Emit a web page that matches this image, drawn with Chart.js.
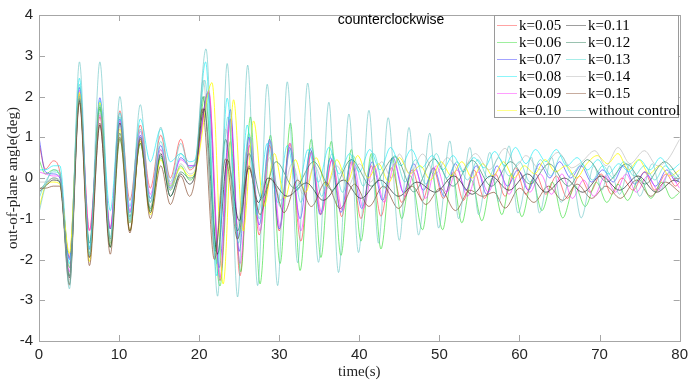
<!DOCTYPE html>
<html><head><meta charset="utf-8">
<script src="https://cdn.jsdelivr.net/npm/chart.js@4/dist/chart.umd.min.js"></script>
<style>html,body{margin:0;padding:0;background:#fff;}#wrap{width:693px;height:385px;position:relative;}</style>
</head><body><div id="wrap"><canvas id="c" width="693" height="385"></canvas></div>
<script>
// ---- data ----
const seriesNames = ['k=0.05','k=0.06','k=0.07','k=0.08','k=0.09','k=0.10','k=0.11','k=0.12','k=0.13','k=0.14','k=0.15','without control'];
const xTicks = [0,10,20,30,40,50,60,70,80];
const yTicks = [-4,-3,-2,-1,0,1,2,3,4];
// shared time stamps of the first 20 s (common extrema)
const tEarly = [0,0.8,1.8,2.6,3.8,5.05,6.3,7.6,8.9,10.1,11.35,12.65,13.9,15.2,16.4,17.7,18.8,19.5];

const k005Early = [0.85,0.22,0.42,0.15,-1.95,2.05,-1.28,1.5,-1.25,1.65,-0.55,1.3,-0.25,1.05,0.0,0.95,0.2,0.35];
const k006Early = [0.45,0.1,0.2,0.05,-2.2,2.0,-1.85,1.7,-1.7,0.95,-1.1,0.85,-0.8,0.5,-0.3,0.3,-0.05,0.15];
const k007Early = [1.0,0.15,0.1,0.0,-2.0,2.22,-1.75,1.97,-1.25,1.45,-0.85,1.05,-0.5,0.8,-0.25,0.5,0.3,0.3];
const k008Early = [0.2,0.2,0.3,0.3,-2.1,2.45,-1.7,1.9,-0.8,1.6,-0.7,1.45,0.4,1.2,0.4,0.6,0.4,0.45];
const k009Early = [0.15,0.1,0.05,0.05,-2.3,2.15,-1.3,1.55,-1.2,1.4,-0.8,1.15,-0.4,0.7,-0.15,0.45,0.3,0.3];
const k010Early = [-0.75,-0.2,-0.1,-0.15,-1.85,2.1,-2.05,1.85,-1.6,1.2,-1.3,0.9,-0.9,0.45,-0.2,0.25,0.05,0.15];
const k011Early = [-0.35,-0.2,-0.05,-0.1,-2.45,1.9,-1.95,1.3,-1.7,1.35,-1.3,1.0,-0.85,0.6,-0.45,0.1,-0.15,0.1];
const k012Early = [-0.3,-0.15,0.0,-0.1,-2.4,1.95,-1.6,1.75,-1.5,1.1,-0.95,0.85,-0.75,0.55,-0.45,0.15,0.0,0.1];
const k013Early = [-0.5,-0.1,0.15,0.1,-2.6,2.3,-1.75,1.8,-1.45,1.5,-1.0,1.2,-0.6,0.9,-0.2,0.6,0.25,0.35];
const k014Early = [-0.1,-0.1,0.0,-0.05,-2.5,2.0,-1.9,1.6,-1.55,1.3,-1.1,1.0,-0.7,0.7,-0.3,0.35,0.1,0.2];
const k015Early = [-0.25,-0.25,-0.2,-0.2,-2.63,1.85,-2.15,1.35,-1.87,1.0,-1.35,0.95,-1.0,0.3,-0.65,0.05,-0.45,0.0];
const noCtrlEarly = [-0.85,-0.2,0.2,0.15,-2.72,2.85,-1.9,2.85,-1.6,2.0,-1.05,1.8,-0.6,1.25,-0.1,0.85,0.25,0.4];

// [time, angle] pairs after 20 s
const k005Late = [[21.2,2.1],[22.6,-2.52],[23.9,1.45],[25.1,-2.4],[26.3,0.8],[27.5,-1.4],[28.8,0.8],[30.0,-1.3],[31.3,0.85],[32.7,-1.55],[34.0,0.65],[35.2,-0.9],[36.6,0.45],[37.8,-0.95],[39.0,0.4],[40.2,-1.0],[41.5,0.3],[42.7,-0.94],[44.0,0.25],[45.3,-0.6],[46.6,0.2],[47.9,-0.55],[49.2,0.25],[50.5,-0.5],[51.8,0.15],[53.0,-0.55],[54.3,0.2],[55.6,-0.5],[57.0,0.1],[58.2,-0.45],[59.5,0.25],[60.8,-0.4],[62.0,0.1],[63.3,-0.4],[64.6,0.05],[66.0,-0.5],[67.5,0.05],[68.8,-0.35],[70.2,0.1],[71.5,-0.4],[72.8,0.0],[74.2,-0.3],[75.6,0.15],[76.9,-0.3],[78.3,0.1],[79.5,-0.2],[80,-0.1]];
const k006Late = [[20.7,2.0],[22.6,-2.65],[23.9,0.9],[25.2,-2.3],[26.4,1.5],[27.6,-2.6],[28.9,1.05],[30.1,-2.1],[31.4,1.35],[32.6,-2.27],[34.0,0.95],[35.2,-1.95],[36.5,0.9],[37.7,-1.9],[39.0,0.7],[40.2,-1.55],[41.5,0.6],[42.7,-1.74],[44.1,0.5],[45.3,-1.0],[46.4,0.05],[47.9,-1.27],[49.0,0.15],[50.4,-1.27],[51.6,0.1],[52.8,-1.1],[54.0,-0.05],[55.3,-1.05],[56.6,0.0],[57.8,-0.9],[59.0,0.1],[60.3,-0.95],[61.6,-0.05],[62.8,-0.8],[64.1,-0.1],[65.4,-0.98],[66.9,-0.18],[68.2,-0.7],[69.6,-0.1],[70.9,-0.6],[72.3,-0.15],[73.5,-0.55],[75.0,0.0],[76.4,-0.5],[77.8,-0.1],[79.0,-0.5],[80,-0.35]];
const k007Late = [[21.1,2.1],[22.5,-2.2],[23.9,1.68],[25.0,-1.8],[26.2,1.0],[27.5,-1.15],[28.8,0.95],[30.0,-1.25],[31.3,0.75],[32.6,-1.0],[33.9,0.7],[35.1,-0.9],[36.4,0.5],[37.7,-0.85],[39.0,0.45],[40.3,-0.75],[41.6,0.4],[42.9,-0.55],[44.2,0.5],[45.5,-0.35],[46.8,0.35],[48.0,-0.3],[49.3,0.25],[50.6,-0.45],[52.0,0.35],[53.3,-0.3],[54.6,0.3],[55.9,-0.4],[57.2,0.3],[58.5,-0.2],[59.8,0.2],[61.1,-0.3],[62.5,0.35],[63.8,0.0],[65.0,0.4],[66.4,0.0],[67.7,0.3],[69.0,-0.1],[70.4,0.2],[71.7,-0.1],[73.0,0.3],[74.4,-0.15],[75.7,0.15],[77.0,-0.2],[78.4,0.2],[79.6,-0.1],[80,0.0]];
const k008Late = [[20.8,2.85],[22.2,-2.4],[23.5,1.96],[24.8,-1.5],[26.0,1.3],[27.2,-0.9],[28.5,0.85],[29.8,-0.6],[31.0,0.8],[32.3,-0.3],[33.6,0.7],[34.9,-0.1],[36.2,0.75],[37.5,0.1],[38.8,0.6],[40.0,0.15],[41.3,0.7],[42.6,0.2],[43.9,0.75],[45.2,0.3],[46.5,0.7],[47.8,0.25],[49.1,0.55],[50.4,0.2],[51.7,0.55],[53.0,0.15],[54.3,0.5],[55.6,0.25],[56.9,0.65],[58.2,0.3],[59.5,0.75],[60.8,0.35],[62.0,0.7],[63.3,0.4],[64.6,0.7],[65.9,0.3],[67.2,0.5],[68.5,0.2],[69.8,0.45],[71.1,0.1],[72.4,0.35],[73.7,0.15],[75.0,0.45],[76.3,0.2],[77.6,0.5],[78.9,0.2],[80,0.35]];
const k009Late = [[21.2,2.15],[22.6,-2.44],[23.9,1.44],[25.1,-2.1],[26.4,1.0],[27.6,-1.3],[28.9,0.9],[30.1,-1.2],[31.4,0.85],[32.7,-1.3],[34.0,0.6],[35.3,-0.85],[36.6,0.45],[37.9,-0.8],[39.2,0.4],[40.5,-0.75],[41.8,0.3],[43.1,-0.6],[44.4,0.35],[45.7,-0.45],[47.0,0.2],[48.3,-0.5],[49.6,0.3],[50.9,-0.35],[52.2,0.2],[53.5,-0.45],[54.8,0.15],[56.1,-0.35],[57.4,0.2],[58.7,-0.4],[60.0,0.15],[61.3,-0.35],[62.6,0.1],[64.0,-0.4],[65.3,0.1],[66.6,-0.5],[68.0,-0.05],[69.3,-0.45],[70.7,0.05],[72.0,-0.35],[73.3,0.1],[74.6,-0.35],[76.0,0.05],[77.3,-0.3],[78.6,0.1],[80,-0.25]];
const k010Late = [[21.6,2.34],[23.0,-2.6],[24.3,1.92],[25.5,-1.3],[26.8,1.4],[28.1,-0.7],[29.4,0.6],[30.7,-0.5],[32.0,0.45],[33.3,-0.35],[34.6,0.5],[35.9,-0.2],[37.2,0.45],[38.5,-0.1],[39.8,0.55],[41.1,0.0],[42.4,0.35],[43.7,-0.1],[45.0,0.5],[46.3,0.1],[47.6,0.3],[48.9,-0.05],[50.2,0.4],[51.5,0.05],[52.8,0.4],[54.1,0.0],[55.4,0.35],[56.7,0.05],[58.0,0.4],[59.3,0.0],[60.6,0.3],[61.9,0.1],[63.2,0.45],[64.5,0.15],[65.8,0.3],[67.1,0.0],[68.4,0.35],[69.7,0.55],[71.0,0.35],[72.3,0.6],[73.6,0.2],[74.9,0.45],[76.2,0.1],[77.5,0.3],[78.8,0.05],[80,0.2]];
const k011Late = [[20.6,1.7],[22.3,-1.87],[23.5,0.45],[25.0,-1.05],[26.2,0.25],[27.4,-0.6],[28.6,0.0],[31.0,-0.45],[33.4,-0.12],[35.5,-0.55],[38.0,-0.05],[40.2,-0.5],[42.6,-0.05],[44.9,-0.45],[47.2,-0.1],[49.5,-0.35],[51.8,0.05],[54.1,-0.4],[56.4,0.05],[58.7,-0.3],[61.0,0.1],[63.3,-0.35],[65.6,0.0],[67.9,-0.35],[70.2,0.05],[72.5,-0.3],[74.8,0.05],[77.1,-0.35],[79.4,-0.05],[80,-0.1]];
const k012Late = [[20.5,2.0],[22.0,-1.8],[23.3,0.95],[24.8,-1.3],[26.2,0.6],[27.8,-0.5],[29.6,0.4],[31.9,-0.25],[34.3,0.4],[36.6,-0.3],[39.0,0.45],[41.5,-0.2],[44.5,0.52],[46.8,-0.34],[49.3,0.47],[51.7,-0.2],[54.1,0.43],[56.5,-0.2],[58.9,0.4],[61.3,-0.15],[63.7,0.35],[66.1,-0.2],[68.5,0.45],[70.9,-0.1],[73.3,0.35],[75.7,-0.15],[78.1,0.4],[80,0.0]];
const k013Late = [[20.7,2.4],[22.2,-2.1],[23.6,1.5],[24.9,-1.6],[26.2,1.1],[27.5,-1.0],[28.8,0.9],[30.1,-0.7],[31.4,0.7],[32.7,-0.6],[34.0,0.75],[35.3,-0.45],[36.6,0.6],[37.9,-0.35],[39.2,0.55],[40.5,-0.2],[41.8,0.6],[43.1,-0.25],[44.4,0.55],[45.7,-0.1],[47.0,0.45],[48.3,-0.15],[49.6,0.6],[50.9,0.0],[52.2,0.4],[53.5,-0.05],[54.8,0.45],[56.1,0.0],[57.4,0.5],[58.7,0.05],[60.0,0.4],[61.3,-0.1],[62.6,0.45],[63.9,0.05],[65.2,0.55],[66.5,0.1],[67.8,0.35],[69.1,-0.05],[70.4,0.3],[71.7,0.0],[73.0,0.4],[74.3,0.05],[75.6,0.3],[76.9,-0.05],[78.2,0.3],[79.5,0.0],[80,0.1]];
const k014Late = [[20.5,2.4],[22.0,-2.0],[23.3,1.2],[24.7,-1.2],[26.0,0.7],[27.4,-0.8],[28.8,0.5],[30.2,-0.55],[31.6,0.35],[33.0,-0.4],[34.4,0.3],[35.8,-0.3],[37.2,0.3],[38.6,-0.2],[40.0,0.35],[41.4,-0.1],[42.8,0.4],[44.0,0.0],[45.0,0.59],[46.3,0.1],[47.9,0.59],[49.5,0.1],[51.0,0.5],[52.6,0.15],[54.5,0.6],[56.2,0.2],[58.2,0.73],[59.6,0.3],[60.8,0.55],[62.6,0.2],[64.8,0.63],[66.5,0.25],[67.8,0.4],[69.4,0.67],[70.8,0.3],[72.3,0.75],[73.8,0.35],[75.6,0.67],[77.2,0.3],[78.5,0.45],[80,0.95]];
const k015Late = [[20.4,1.7],[21.9,-2.0],[23.3,0.47],[24.8,-1.5],[26.2,0.3],[27.6,-0.9],[29.0,0.0],[30.6,-0.85],[32.3,-0.05],[34.0,-0.7],[35.8,-0.1],[37.6,-0.75],[39.4,-0.15],[41.2,-0.7],[43.0,-0.2],[44.9,-0.75],[46.6,-0.2],[48.3,-0.65],[50.1,-0.25],[52.0,-0.8],[53.8,-0.3],[55.4,-0.45],[56.8,-0.35],[58.2,-0.74],[60.0,-0.25],[61.8,-0.6],[63.6,-0.2],[65.4,-0.55],[67.2,-0.15],[69.0,-0.5],[70.8,-0.2],[72.6,-0.5],[74.6,-0.05],[76.4,-0.45],[78.2,-0.1],[80,-0.35]];
const noCtrlLate = [[20.85,3.17],[22.3,-2.9],[23.5,2.81],[24.8,-2.92],[26.06,2.77],[27.3,-2.64],[28.5,2.3],[29.8,-2.64],[31.0,2.36],[32.3,-2.08],[33.55,2.33],[34.9,-2.07],[36.2,1.86],[37.4,-2.32],[38.7,1.57],[39.9,-1.83],[41.2,1.66],[42.4,-1.6],[43.6,1.48],[45.0,-1.53],[46.2,1.24],[47.4,-1.4],[48.8,1.1],[49.9,-1.23],[51.3,0.91],[52.4,-1.0],[53.8,0.75],[54.9,-0.9],[56.3,0.63],[57.4,-0.58],[58.7,0.79],[59.8,-0.86],[61.5,0.51],[62.5,-0.86],[64.0,0.51],[65.2,-0.6],[66.5,0.1],[67.7,-0.98],[69.3,0.3],[70.3,-0.3],[71.2,0.3],[72.5,-0.4],[73.8,0.35],[75.0,-0.45],[76.6,0.35],[77.6,-0.3],[78.7,0.15],[80,-0.1]];

const earlyArrays = [k005Early,k006Early,k007Early,k008Early,k009Early,k010Early,k011Early,k012Early,k013Early,k014Early,k015Early,noCtrlEarly];
const lateArrays = [k005Late,k006Late,k007Late,k008Late,k009Late,k010Late,k011Late,k012Late,k013Late,k014Late,k015Late,noCtrlLate];
const lineColors = ['255,50,50','40,220,40','50,50,255','0,235,245','255,40,255','255,255,0','40,40,40','30,120,80','60,215,205','175,175,175','130,70,40','100,195,195'];
const lineAlpha = [0.6,0.6,0.6,0.6,0.6,0.8,0.7,0.6,0.6,0.55,0.65,0.6];

// ---- chart ----
const datasets = seriesNames.map((name,i)=>({
  label:name,
  data: tEarly.map((t,j)=>({x:t,y:earlyArrays[i][j]})).concat(lateArrays[i].map(p=>({x:p[0],y:p[1]}))),
  borderColor:'rgba('+lineColors[i]+','+lineAlpha[i]+')',
  borderWidth:1,
  pointRadius:0,
  cubicInterpolationMode:'monotone',
  fill:false,
  order: seriesNames.length - i
}));

const AX = '#a6a6a6';
const framePlugin = {
  id:'frame',
  afterDatasetsDraw(chart){
    const {ctx, chartArea:a, scales:{x,y}} = chart;
    ctx.save();
    ctx.strokeStyle = AX; ctx.lineWidth = 1;
    ctx.strokeRect(Math.round(a.left)+0.5, Math.round(a.top)+0.5, Math.round(a.right-a.left), Math.round(a.bottom-a.top));
    ctx.beginPath();
    x.ticks.forEach(t=>{const p=Math.round(x.getPixelForValue(t.value))+0.5; ctx.moveTo(p,a.bottom); ctx.lineTo(p,a.bottom-6); ctx.moveTo(p,a.top); ctx.lineTo(p,a.top+6);});
    y.ticks.forEach(t=>{const p=Math.round(y.getPixelForValue(t.value))+0.5; ctx.moveTo(a.left,p); ctx.lineTo(a.left+6,p); ctx.moveTo(a.right,p); ctx.lineTo(a.right-6,p);});
    ctx.stroke();
    // inner title
    ctx.fillStyle = '#000';
    ctx.font = '14px "Liberation Sans", Arial, sans-serif';
    ctx.textAlign = 'center'; ctx.textBaseline = 'alphabetic';
    ctx.fillText('counterclockwise', 391, 24);
    ctx.restore();
  },
  afterDraw(chart){
    const ctx = chart.ctx;
    ctx.save();
    const bx=494, by=15, bw=184, bh=102;
    ctx.fillStyle='#fff'; ctx.fillRect(bx,by,bw,bh);
    ctx.strokeStyle='#9a9a9a'; ctx.lineWidth=1; ctx.strokeRect(bx+0.5,by+0.5,bw,bh);
    ctx.font='15px "Liberation Serif", "Times New Roman", serif';
    ctx.textBaseline='middle'; ctx.textAlign='left';
    seriesNames.forEach((name,i)=>{
      const col = i<6?0:1, row=i%6;
      const yy = 25.5 + row*17;
      const lx = col===0?497:566;
      ctx.strokeStyle='rgba('+lineColors[i]+',0.45)';
      ctx.beginPath(); ctx.moveTo(lx,yy); ctx.lineTo(lx+20,yy); ctx.stroke();
      ctx.fillStyle='#000';
      ctx.fillText(name, lx+22, yy+0.5);
    });
    ctx.restore();
  }
};

new Chart(document.getElementById('c'), {
  type:'line',
  data:{datasets},
  options:{
    responsive:false, animation:false, devicePixelRatio:1,
    layout:{padding:{top:10,right:9,left:0,bottom:0}},
    plugins:{legend:{display:false}, tooltip:{enabled:false}},
    scales:{
      x:{type:'linear', min:0, max:80,
        afterBuildTicks(s){ s.ticks = xTicks.map(v=>({value:v})); },
        afterFit(s){ s.height = 44; },
        grid:{display:false, drawTicks:false}, border:{display:false},
        ticks:{font:{family:'"Liberation Sans", Arial, sans-serif', size:15}, color:'#262626', padding:5, maxRotation:0},
        title:{display:true, text:'time(s)', font:{family:'"Liberation Serif", "Times New Roman", serif', size:15}, color:'#262626', padding:{top:0,bottom:4}}
      },
      y:{type:'linear', min:-4, max:4,
        afterBuildTicks(s){ s.ticks = yTicks.map(v=>({value:v})); },
        afterFit(s){ s.width = 39; },
        grid:{display:false, drawTicks:false}, border:{display:false},
        ticks:{font:{family:'"Liberation Sans", Arial, sans-serif', size:15}, color:'#262626', padding:6},
        title:{display:true, text:'out-of-plane angle(deg)', font:{family:'"Liberation Serif", "Times New Roman", serif', size:15}, color:'#262626', padding:{top:4,bottom:0}}
      }
    }
  },
  plugins:[framePlugin]
});
</script></body></html>
